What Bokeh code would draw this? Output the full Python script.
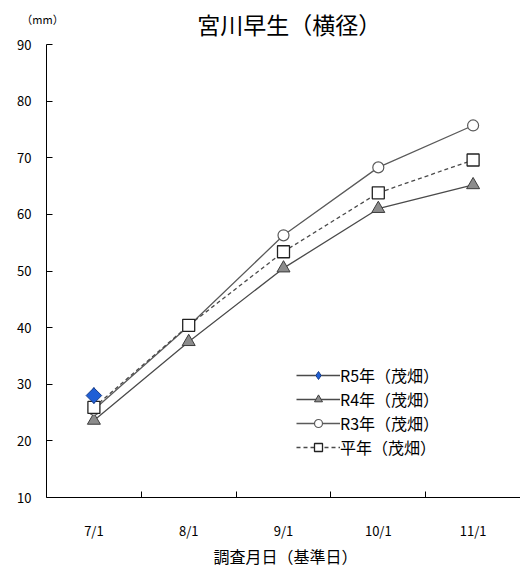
from bokeh.plotting import figure
from bokeh.models import (ColumnDataSource, Range1d, FixedTicker, Legend, LegendItem, Label)
from bokeh.embed import file_html
from bokeh.resources import INLINE
import numpy as np

# survey dates (category positions 1..5)
dates = ["7/1", "8/1", "9/1", "10/1", "11/1"]
xpos = [1, 2, 3, 4, 5]

# fruit transverse diameter (mm)
r5 = [28.0, np.nan, np.nan, np.nan, np.nan]
r4 = [23.6, 37.5, 50.5, 61.0, 65.2]
r3 = [25.5, 40.3, 56.3, 68.3, 75.7]
avg = [25.9, 40.4, 53.4, 63.8, 69.6]

y_ticks = [10, 20, 30, 40, 50, 60, 70, 80, 90]

FONT = "Noto Sans CJK JP"

src = ColumnDataSource(dict(x=xpos, r5=r5, r4=r4, r3=r3, avg=avg))

# the frame fills the whole canvas; both axes are pinned inside it so that the
# title, unit note and axis texts all sit within the frame
px_per_x = 474 / 5.0
px_per_y = 453 / 80.0
x_lo = 0.5 - 46 / px_per_x
y_hi = 90 + 44 / px_per_y
y_lo = 10 - 72 / px_per_y

p = figure(width=520, height=569, output_backend="svg", toolbar_location=None,
           x_range=Range1d(x_lo, 5.5), y_range=Range1d(y_lo, y_hi),
           min_border_left=0, min_border_right=0, min_border_top=0, min_border_bottom=0)
p.background_fill_color = "white"
p.border_fill_color = "white"
p.outline_line_color = None
p.xgrid.visible = False
p.ygrid.visible = False

# x axis: labels at category centres, ticks at category boundaries
xa = p.xaxis[0]
xa.fixed_location = 10
xa.bounds = (0.5, 5.5)
xa.ticker = FixedTicker(ticks=xpos, minor_ticks=[1.5, 2.5, 3.5, 4.5])
xa.major_label_overrides = {x: d for x, d in zip(xpos, dates)}
xa.major_tick_line_color = None
xa.minor_tick_in = 6
xa.minor_tick_out = 0
xa.minor_tick_line_color = "black"
xa.axis_line_color = "black"
xa.major_label_standoff = 17
xa.major_label_text_font = FONT
xa.major_label_text_font_size = "13px"
xa.major_label_text_color = "black"

ya = p.yaxis[0]
ya.fixed_location = 0.5
ya.bounds = (10, 90)
ya.ticker = FixedTicker(ticks=y_ticks, minor_ticks=[])
ya.major_tick_in = 6
ya.major_tick_out = 0
ya.major_tick_line_color = "black"
ya.axis_line_color = "black"
ya.major_label_standoff = 15
ya.major_label_text_font = FONT
ya.major_label_text_font_size = "13px"
ya.major_label_text_color = "black"

LINE = "#4a4a4a"

# R4 (solid, grey triangles)
l4 = p.line("x", "r4", source=src, line_color=LINE, line_width=1.3)
s4 = p.scatter("x", "r4", source=src, marker="triangle", size=13,
               fill_color="#8c8c8c", line_color="#3c3c3c", line_width=1)
# R3 (solid, open circles)
l3 = p.line("x", "r3", source=src, line_color="#5a5a5a", line_width=1.3)
s3 = p.scatter("x", "r3", source=src, marker="circle", size=11,
               fill_color="white", line_color="#5a5a5a", line_width=1.2)
# normal year (dashed, open squares)
la = p.line("x", "avg", source=src, line_color=LINE, line_width=1.3, line_dash="4 3")
sa = p.scatter("x", "avg", source=src, marker="square", size=12,
               fill_color="white", line_color="#222222", line_width=1.3)
# R5 (blue diamond); the narrow diamond also serves as the legend swatch,
# the square turned 45 degrees drawn over it gives the plotted shape
l5 = p.line("x", "r5", source=src, line_color=LINE, line_width=1.3)
k5 = p.scatter("x", "r5", source=src, marker="diamond", size=16,
               fill_color="#1f5fd6", line_color="#1a3f8a", line_width=1)
s5 = p.scatter("x", "r5", source=src, marker="square", size=11, angle=np.pi / 4,
               fill_color="#1f5fd6", line_color="#1a3f8a", line_width=1)

legend = Legend(items=[
    LegendItem(label="R5年（茂畑）", renderers=[l5, k5]),
    LegendItem(label="R4年（茂畑）", renderers=[l4, s4]),
    LegendItem(label="R3年（茂畑）", renderers=[l3, s3]),
    LegendItem(label="平年（茂畑）", renderers=[la, sa]),
], location=(296, 110))
legend.background_fill_alpha = 0
legend.border_line_color = None
legend.padding = 0
legend.margin = 0
legend.spacing = 0
legend.glyph_width = 44
legend.glyph_height = 20
legend.label_height = 20
legend.label_standoff = 0
legend.label_text_font = FONT
legend.label_text_font_size = "16px"
legend.label_text_color = "black"
p.add_layout(legend, "center")

# chart title, unit note and x-axis title
p.add_layout(Label(x=3.06, y=90 + 21 / px_per_y, text="宮川早生（横径）", text_align="center",
                   text_baseline="middle", text_font=FONT, text_font_size="23px",
                   text_color="black"))
p.add_layout(Label(x=0.5 - 4 / px_per_x, y=90 + 26 / px_per_y, text="（mm）", text_align="center",
                   text_baseline="middle", text_font=FONT, text_font_size="11px",
                   text_color="black"))
p.add_layout(Label(x=3.02, y=10 - 58 / px_per_y, text="調査月日（基準日）", text_align="center",
                   text_baseline="middle", text_font=FONT, text_font_size="16px",
                   text_color="black"))

open("out.html", "w").write(file_html(p, INLINE))
